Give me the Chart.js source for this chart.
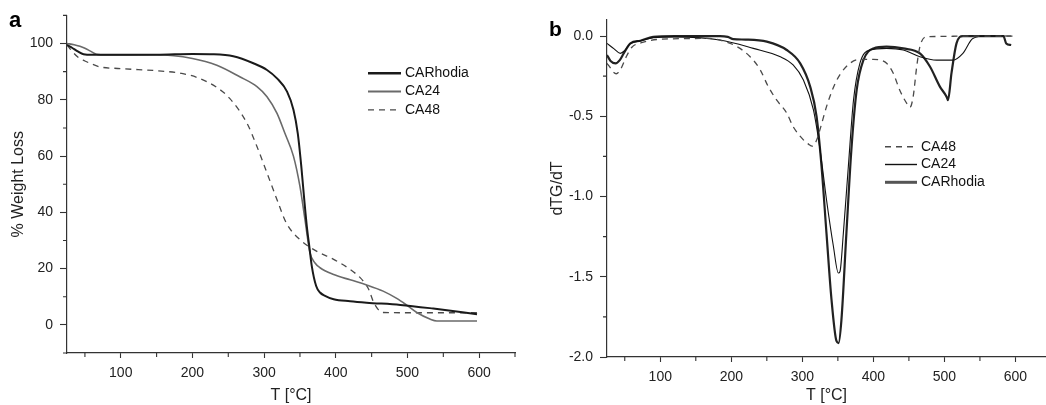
<!DOCTYPE html>
<html>
<head>
<meta charset="utf-8">
<script src="https://cdn.jsdelivr.net/npm/chart.js@4.4.1/dist/chart.umd.min.js"></script>
<style>
  html, body { margin: 0; padding: 0; background: #fff; }
  #wrap { position: relative; width: 1046px; height: 405px; overflow: hidden; }
  canvas { position: absolute; top: 0; }
</style>
</head>
<body>
<div id="wrap">
  <canvas id="tgChart" width="520" height="405" style="left:0"></canvas>
  <canvas id="dtgChart" width="526" height="405" style="left:520px"></canvas>
</div>
<script>
const FONT = '"Liberation Sans", Arial, Helvetica, sans-serif';

// --- panel a: TG curves (% weight loss vs T) ---
const aRhodiaT = [25, 32, 40, 48, 60, 100, 150, 200, 230, 257, 285, 304, 318, 332, 341, 347, 352, 356, 360, 363, 366.5, 372.6, 378, 385, 397, 420, 443, 490, 536, 597];
const aRhodiaW = [99.5, 98.5, 97.2, 96.2, 96, 96, 96, 96.3, 96.2, 95.5, 93, 90.6, 87.6, 82.9, 76.4, 68, 56, 44.5, 34, 28, 20.9, 13.8, 11.5, 10.3, 9.1, 8.4, 7.9, 7.1, 5.8, 3.8];

const aCA24T = [25, 35, 43, 50, 57, 66, 80, 150, 200, 234, 266, 290, 304, 318, 329, 341, 350, 357, 364, 371, 378, 397, 420, 443, 466, 485, 499, 513, 532, 541, 597];
const aCA24W = [100, 99.6, 99, 98.3, 97.4, 96.2, 95.9, 96, 94.7, 92.3, 88.2, 84.7, 81.1, 75.2, 68.1, 59.9, 49.2, 37.4, 25.6, 22, 20.3, 17.9, 16, 14.2, 12, 9.4, 7, 4.4, 2, 1.4, 1.4];

const aCA48T = [25, 33, 41, 50, 57, 71, 100, 157, 185, 210, 234, 252, 276, 290, 304, 318, 331, 350, 373, 397, 420, 434, 440, 446, 452, 459, 466, 500, 597];
const aCA48W = [99.5, 97, 95, 93.8, 93, 91.7, 91.1, 90.2, 89.4, 87.6, 84.4, 80.5, 71.7, 63.4, 54, 44.5, 36.2, 30.3, 26.2, 23.3, 19.7, 16.8, 15, 12.6, 8.5, 5.5, 4.4, 4.3, 4.3];

// --- panel b: DTG curves ---
const bRhodiaT = [25, 30, 37, 43, 48.5, 58, 72, 90, 120, 184, 195, 203, 220, 250, 278, 297, 311, 320, 327, 334, 341, 348, 351, 355, 362, 369, 376.5, 386, 400, 418.6, 442, 465.5, 479.6, 493.6, 503, 505, 510, 517, 526, 583, 587, 594];
const bRhodiaV = [-0.118, -0.155, -0.17, -0.15, -0.108, -0.046, -0.029, -0.005, 0, 0, -0.005, -0.019, -0.022, -0.035, -0.087, -0.17, -0.315, -0.5, -0.81, -1.23, -1.64, -1.9, -1.913, -1.77, -1.23, -0.71, -0.336, -0.15, -0.077, -0.066, -0.077, -0.108, -0.19, -0.315, -0.378, -0.4, -0.23, -0.046, 0, 0, -0.046, -0.056];

const bCA24T = [25, 35, 43.8, 50, 58, 72, 90, 120, 184, 231, 269, 287, 301.5, 315.6, 325, 334, 343.7, 350.7, 353, 357.7, 364.8, 372, 381, 395, 418.6, 442, 465.5, 489, 512, 526, 540, 559, 594];
const bCA24V = [-0.046, -0.08, -0.108, -0.09, -0.046, -0.03, -0.01, -0.005, -0.025, -0.077, -0.129, -0.18, -0.274, -0.46, -0.71, -1.02, -1.31, -1.477, -1.467, -1.23, -0.81, -0.4, -0.17, -0.087, -0.077, -0.087, -0.129, -0.15, -0.15, -0.108, -0.015, 0, 0];

const bCA48T = [25, 30, 33, 38, 45, 52, 60, 75, 100, 170, 184, 208, 226.5, 240.6, 252, 264, 278, 287, 301.5, 309, 314, 320, 325, 334, 343.7, 353, 367, 381, 400, 409, 418.6, 428, 437, 447, 451.5, 456, 461, 465.5, 475, 597];
const bCA48V = [-0.17, -0.2, -0.22, -0.235, -0.2, -0.13, -0.07, -0.04, -0.02, -0.015, -0.025, -0.066, -0.129, -0.21, -0.315, -0.4, -0.48, -0.564, -0.647, -0.675, -0.686, -0.65, -0.58, -0.44, -0.32, -0.24, -0.17, -0.145, -0.145, -0.149, -0.17, -0.232, -0.336, -0.42, -0.444, -0.378, -0.19, -0.066, -0.004, 0];

// tick values
const xTicks = [100, 200, 300, 400, 500, 600];
const xMinor = [50, 150, 250, 350, 450, 550, 650];
const aYTicks = [0, 20, 40, 60, 80, 100];
const aYMinor = [-10, 10, 30, 50, 70, 90, 110];
const bYTicks = [-2, -1.5, -1, -0.5, 0];
const bYMinor = [-1.75, -1.25, -0.75, -0.25];

const pts = (xs, ys) => xs.map((x, i) => ({ x: x, y: ys[i] }));

// малює мінорні риски, літеру панелі та легенду
const decorPlugin = {
    id: 'decor',
    afterDraw(chart, args, opts) {
        const ctx = chart.ctx;
        const { x, y } = chart.scales;
        ctx.save();
        ctx.strokeStyle = '#333';
        ctx.lineWidth = 1.1;
        ctx.beginPath();
        opts.minorX.forEach(v => {
            const px = x.getPixelForValue(v);
            if (px > x.right + 1) return;
            ctx.moveTo(px, x.top);
            ctx.lineTo(px, x.top + opts.minorLen);
        });
        opts.minorY.forEach(v => {
            const py = y.getPixelForValue(v);
            ctx.moveTo(y.right, py);
            ctx.lineTo(y.right - opts.minorLen, py);
        });
        ctx.stroke();

        ctx.fillStyle = '#000';
        ctx.font = `bold ${opts.letterSize}px ${FONT}`;
        ctx.textBaseline = 'alphabetic';
        ctx.fillText(opts.letter, opts.letterX, opts.letterY);

        const lg = opts.legend;
        ctx.font = `14px ${FONT}`;
        ctx.textBaseline = 'middle';
        lg.order.forEach((idx, i) => {
            const ds = chart.data.datasets[idx];
            const ly = lg.y + i * lg.gap;
            ctx.beginPath();
            ctx.setLineDash(ds.borderDash || []);
            ctx.strokeStyle = ds.legendColor || ds.borderColor;
            ctx.lineWidth = ds.legendWidth || ds.borderWidth;
            ctx.moveTo(lg.x1, ly);
            ctx.lineTo(lg.x2, ly);
            ctx.stroke();
            ctx.setLineDash([]);
            ctx.fillStyle = '#111';
            ctx.fillText(ds.label, lg.textX, ly);
        });
        ctx.restore();
    }
};

function axis(min, max, ticks, cfg) {
    return {
        type: 'linear',
        min: min,
        max: max,
        afterBuildTicks: (s) => { s.ticks = ticks.map(v => ({ value: v })); },
        afterFit: cfg.fit,
        grid: { drawOnChartArea: false, tickLength: cfg.tickLen, tickColor: '#333', tickWidth: 1.1 },
        border: { color: '#333', width: 1.2 },
        ticks: {
            autoSkip: false, maxRotation: 0, padding: cfg.pad, color: '#222',
            font: { size: 14, family: FONT },
            callback: cfg.fmt || ((v) => v)
        },
        title: {
            display: true, text: cfg.title, color: '#222',
            font: { size: 16, family: FONT },
            padding: cfg.titlePad
        }
    };
}

const lineBase = { pointRadius: 0, fill: false, cubicInterpolationMode: 'monotone' };

new Chart(document.getElementById('tgChart'), {
    type: 'line',
    plugins: [decorPlugin],
    data: {
        datasets: [
            { ...lineBase, label: 'CARhodia', data: pts(aRhodiaT, aRhodiaW), borderColor: '#1a1a1a', borderWidth: 2, legendWidth: 2.4 },
            { ...lineBase, label: 'CA24', data: pts(aCA24T, aCA24W), borderColor: '#6a6a6a', borderWidth: 1.6, legendWidth: 2 },
            { ...lineBase, label: 'CA48', data: pts(aCA48T, aCA48W), borderColor: '#4a4a4a', borderWidth: 1.3, borderDash: [6, 5], legendWidth: 1.4 }
        ]
    },
    options: {
        responsive: false,
        animation: false,
        layout: { padding: { left: 0, right: 5, top: 15, bottom: 0 } },
        plugins: {
            legend: { display: false },
            tooltip: { enabled: false },
            decor: {
                minorX: xMinor, minorY: aYMinor, minorLen: 4,
                letter: 'a', letterX: 9, letterY: 27, letterSize: 22,
                legend: { order: [0, 1, 2], x1: 368, x2: 401, textX: 405, y: 73.3, gap: 18.3 }
            }
        },
        scales: {
            x: axis(25, 650, xTicks, { fit: (s) => { s.height = 52; }, tickLen: 5, pad: 7, title: 'T [°C]', titlePad: { top: 0, bottom: 0 } }),
            y: axis(-10, 110, aYTicks, { fit: (s) => { s.width = 67; }, tickLen: 7, pad: 7, title: '% Weight Loss', titlePad: { top: 9, bottom: 0 } })
        }
    }
});

new Chart(document.getElementById('dtgChart'), {
    type: 'line',
    plugins: [decorPlugin],
    data: {
        datasets: [
            { ...lineBase, label: 'CA48', data: pts(bCA48T, bCA48V), borderColor: '#4a4a4a', borderWidth: 1.3, borderDash: [6, 5], legendWidth: 1.4 },
            { ...lineBase, label: 'CA24', data: pts(bCA24T, bCA24V), borderColor: '#111', borderWidth: 1.1, legendWidth: 1.4 },
            { ...lineBase, label: 'CARhodia', data: pts(bRhodiaT, bRhodiaV), borderColor: '#222', borderWidth: 2.2, legendColor: '#555', legendWidth: 3 }
        ]
    },
    options: {
        responsive: false,
        animation: false,
        layout: { padding: { left: 0, right: 0, top: 20, bottom: 0 } },
        plugins: {
            legend: { display: false },
            tooltip: { enabled: false },
            decor: {
                minorX: xMinor, minorY: bYMinor, minorLen: 4,
                letter: 'b', letterX: 29, letterY: 36, letterSize: 21,
                legend: { order: [0, 1, 2], x1: 365, x2: 397, textX: 401, y: 146.7, gap: 17.8 }
            }
        },
        scales: {
            x: axis(25, 643, xTicks, { fit: (s) => { s.height = 48; }, tickLen: 5, pad: 7, title: 'T [°C]', titlePad: { top: 0, bottom: 0 } }),
            y: axis(-2, 0.1, bYTicks, { fit: (s) => { s.width = 87; }, tickLen: 7, pad: 7, title: 'dTG/dT', titlePad: { top: 28, bottom: 0 }, fmt: (v) => Number(v).toFixed(1) })
        }
    }
});
</script>
</body>
</html>
